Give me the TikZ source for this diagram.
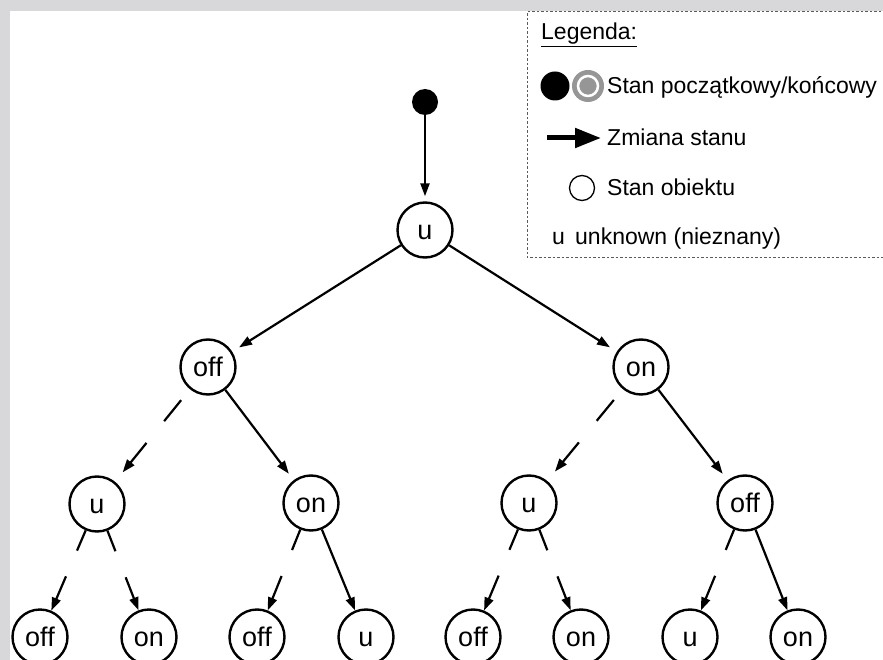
\documentclass[tikz,border=0pt]{standalone}
\usepackage{fontspec}
\setmainfont{Liberation Sans}
\usetikzlibrary{arrows.meta}

\definecolor{ramka}{RGB}{216,216,218}
\definecolor{szary}{RGB}{150,150,150}
\definecolor{kreska}{RGB}{90,90,90}

\tikzset{
  stan/.style={circle,draw,line width=2.4pt,minimum size=55pt,inner sep=0pt,
    text height=19pt,text depth=0pt,font=\fontsize{27}{32}\selectfont},
  przejscie/.style={line width=2.2pt,-{Triangle[length=13pt,width=9pt]}},
  przerwa/.style={przejscie,shorten <=14pt,shorten >=12pt,dash pattern=on 27pt off 28pt on 300pt},
  przerwab/.style={przejscie,dash pattern=on 22pt off 28pt on 300pt},
  opis/.style={anchor=base west,inner sep=0pt,font=\fontsize{23}{28}\selectfont}
}

\begin{document}
\begin{tikzpicture}[x=1pt,y=-1pt]
\useasboundingbox (0,0) rectangle (883,660);
\clip (0,0) rectangle (883,660);
\fill[ramka] (0,0) rectangle (883,660);
\fill[white] (10,11) rectangle (883,660);

% legenda
\draw[kreska,line width=1pt,dash pattern=on 2.5pt off 2pt] (890,12) -| (527,258) -- (890,258);
\node[opis] (leg) at (541,40) {\underline{Legenda:}};
\node[circle,fill=black,minimum size=29pt,inner sep=0pt] (lstart) at (555,86) {};
\node[circle,fill=szary,minimum size=32pt,inner sep=0pt] (lend) at (588,86) {};
\node[circle,fill=szary,draw=white,line width=2.5pt,minimum size=20pt,inner sep=0pt] (lendin) at (lend) {};
\node[opis] (tstart) at (607,94) {Stan początkowy/końcowy};
\coordinate (la) at (547,138);
\coordinate (lb) at (601,138);
\draw[line width=5pt,-{Triangle[length=26pt,width=19pt]}] (la) -- (lb);
\node[opis] (tzmiana) at (607,146) {Zmiana stanu};
\node[circle,draw,line width=1.3pt,minimum size=25pt,inner sep=0pt] (lstan) at (582,188) {};
\node[opis] (tstan) at (607,196) {Stan obiektu};
\node[opis] (lu) at (552,245) {u};
\node[opis] (tu) at (575,245) {unknown (nieznany)};

% drzewo stanow
\node[circle,fill=black,minimum size=26pt,inner sep=0pt] (start) at (425,102) {};
\node[stan] (u0) at (425,230) {u};
\node[stan] (off1) at (208,367) {off};
\node[stan] (on1) at (641,367) {on};
\node[stan] (u2a) at (97,504) {u};
\node[stan] (on2a) at (311,503) {on};
\node[stan] (u2b) at (529,503) {u};
\node[stan] (off2b) at (745,503) {off};
\node[stan] (off3a) at (40,637) {off};
\node[stan] (on3a) at (149,637) {on};
\node[stan] (off3b) at (257,637) {off};
\node[stan] (u3b) at (366,637) {u};
\node[stan] (off3c) at (473,637) {off};
\node[stan] (on3c) at (581,637) {on};
\node[stan] (u3d) at (690,637) {u};
\node[stan] (on3d) at (798,637) {on};

\draw[przejscie,shorten >=5pt] (start) -- (u0);
\draw[przejscie,shorten >=8pt] (u0) -- (off1);
\draw[przejscie,shorten >=8pt] (u0) -- (on1);
\draw[przerwa] (off1) -- (u2a);
\draw[przejscie,shorten >=8pt] (off1) -- (on2a);
\draw[przerwa] (on1) -- (u2b);
\draw[przejscie,shorten >=8pt] (on1) -- (off2b);
\draw[przerwab] (u2a) -- (off3a);
\draw[przerwab] (u2a) -- (on3a);
\draw[przerwab] (on2a) -- (off3b);
\draw[przejscie] (on2a) -- (u3b);
\draw[przerwab] (u2b) -- (off3c);
\draw[przerwab] (u2b) -- (on3c);
\draw[przerwab] (off2b) -- (u3d);
\draw[przejscie] (off2b) -- (on3d);
\end{tikzpicture}
\end{document}
